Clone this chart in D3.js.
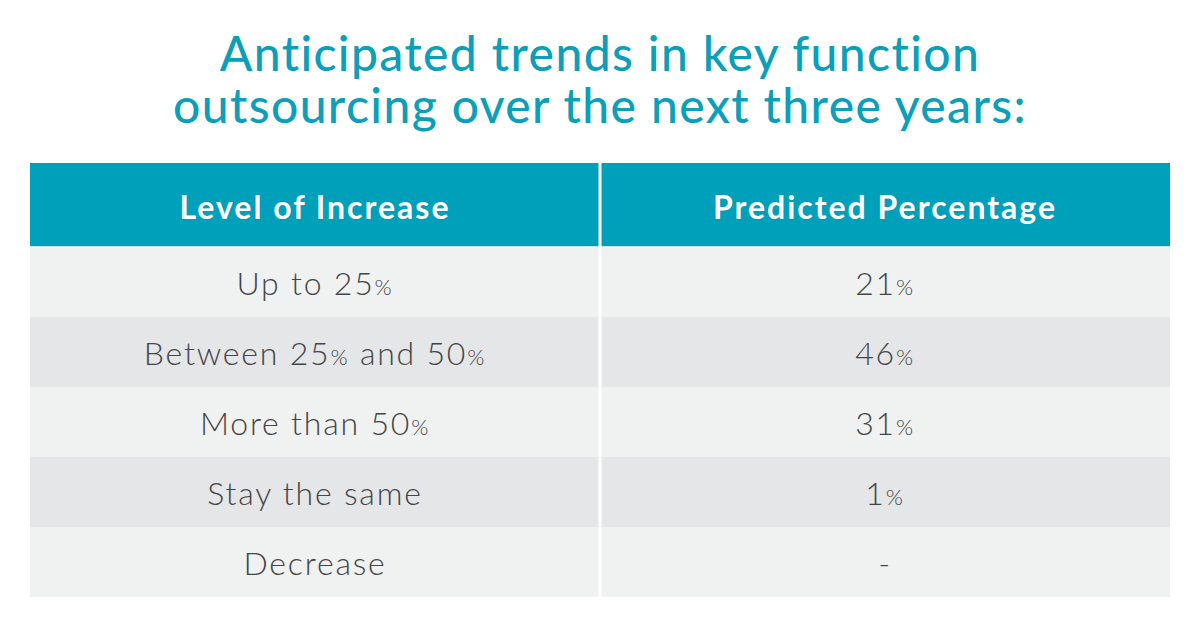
<!DOCTYPE html>
<html>
<head>
<meta charset="utf-8">
<script src="https://cdn.jsdelivr.net/npm/d3@7"></script>
<style>
  html, body { margin: 0; padding: 0; background: #ffffff; }
  svg { display: block; }
  text { font-variant-ligatures: none; font-feature-settings: "liga" 0; }
</style>
</head>
<body>
<svg id="chart" width="1200" height="627"></svg>
<script>
const titleLines = ["Anticipated trends in key function", "outsourcing over the next three years:"];
const columns = ["Level of Increase", "Predicted Percentage"];
const levels = ["Up to 25%", "Between 25% and 50%", "More than 50%", "Stay the same", "Decrease"];
const percentages = ["21%", "46%", "31%", "1%", "-"];

const W = 1200, H = 627;
const svg = d3.select("#chart");
const teal = "#009fba";
const rowColors = ["#f0f1f1", "#e5e6e8"];
const textColor = "#454545";
const fontFamily = "Lato, 'Open Sans', sans-serif";

// Title
const title = svg.append("g");
titleLines.forEach((t, i) => {
  title.append("text")
    .attr("x", W / 2)
    .attr("y", 71 + i * 52)
    .attr("text-anchor", "middle")
    .attr("font-family", fontFamily)
    .attr("font-size", 48)
    .attr("font-weight", 500)
    .attr("letter-spacing", 1.4)
    .attr("fill", "#0c9fb9")
    .text(t);
});

// Scales
const x = d3.scaleBand().domain(columns).range([30, 1170]).paddingInner(0);
const headerTop = 163, headerBottom = 247;
const y = d3.scaleBand().domain(levels).range([headerBottom, 597]).paddingInner(0);

// Header
svg.append("rect")
  .attr("x", x.range()[0]).attr("y", headerTop)
  .attr("width", x.range()[1] - x.range()[0]).attr("height", headerBottom - headerTop)
  .attr("fill", teal);

svg.selectAll("text.head").data(columns).join("text")
  .attr("class", "head")
  .attr("x", d => x(d) + x.bandwidth() / 2)
  .attr("y", 219)
  .attr("text-anchor", "middle")
  .attr("font-family", fontFamily)
  .attr("font-size", 32)
  .attr("font-weight", 700)
  .attr("letter-spacing", 2)
  .attr("fill", "#ffffff")
  .text(d => d);

// Rows
const rows = levels.map((lv, i) => ({ level: lv, pct: percentages[i], i }));
svg.selectAll("rect.row").data(rows).join("rect")
  .attr("class", "row")
  .attr("x", x.range()[0])
  .attr("y", d => y(d.level))
  .attr("width", x.range()[1] - x.range()[0])
  .attr("height", y.bandwidth())
  .attr("fill", d => rowColors[d.i % 2]);

// White separator under header
svg.append("line")
  .attr("x1", x.range()[0]).attr("x2", x.range()[1])
  .attr("y1", headerBottom).attr("y2", headerBottom)
  .attr("stroke", "#ffffff").attr("stroke-width", 1.5);

// Vertical divider
svg.append("line")
  .attr("x1", x(columns[1])).attr("x2", x(columns[1]))
  .attr("y1", headerTop).attr("y2", 597)
  .attr("stroke", "#ffffff").attr("stroke-width", 3);

// Cell text with smaller % signs
function addCell(sel, str) {
  const parts = str.split(/(%)/).filter(p => p.length);
  parts.forEach(p => {
    sel.append("tspan")
      .attr("font-size", p === "%" ? 22 : 32)
      .text(p);
  });
}

rows.forEach(d => {
  [d.level, d.pct].forEach((val, c) => {
    const t = svg.append("text")
      .attr("x", x(columns[c]) + x.bandwidth() / 2)
      .attr("y", y(d.level) + y.bandwidth() / 2 + 13)
      .attr("text-anchor", "middle")
      .attr("font-family", fontFamily)
      .attr("font-weight", 300)
      .attr("letter-spacing", 1.8)
      .attr("fill", textColor);
    addCell(t, val);
  });
});
</script>
</body>
</html>
